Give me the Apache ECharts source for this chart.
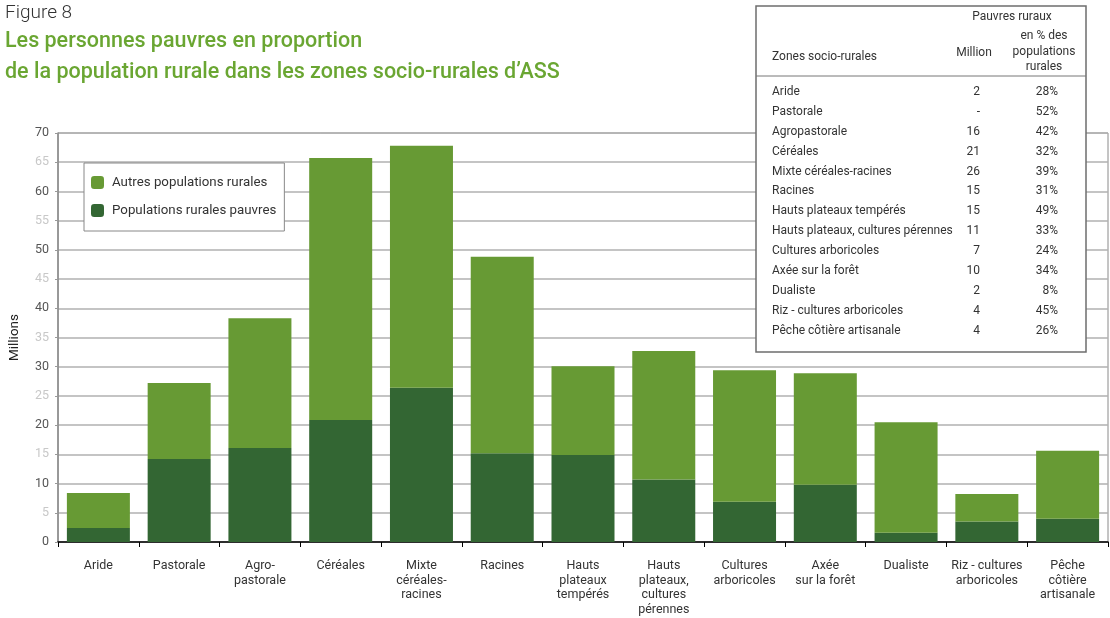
<!DOCTYPE html>
<html>
<head>
<meta charset="utf-8">
<script src="https://cdn.jsdelivr.net/npm/echarts@6/dist/echarts.min.js"></script>
<style>
  html, body { margin: 0; padding: 0; background: #fff; }
  #chart { width: 1110px; height: 618px; }
</style>
</head>
<body>
<div id="chart"></div>
<script>
// Zones socio-rurales (x-axis labels, line breaks as printed)
const categories = [
  'Aride', 'Pastorale', 'Agro-\npastorale', 'Céréales', 'Mixte\ncéréales-\nracines',
  'Racines', 'Hauts\nplateaux\ntempérés', 'Hauts\nplateaux,\ncultures\npérennes',
  'Cultures\narboricoles', 'Axée\nsur la forêt', 'Dualiste', 'Riz - cultures\narboricoles',
  'Pêche\ncôtière\nartisanale'
];

// Populations rurales pauvres (millions)
const poorRural = [2.4, 14.2, 16.1, 20.9, 26.4, 15.2, 14.9, 10.7, 6.9, 9.8, 1.6, 3.5, 4.0];
// Population rurale totale (millions)
const totalRural = [8.4, 27.2, 38.3, 65.7, 67.8, 48.8, 30.1, 32.7, 29.4, 28.9, 20.5, 8.2, 15.6];
// Autres populations rurales = total - pauvres
const otherRural = totalRural.map((t, i) => +(t - poorRural[i]).toFixed(1));

// Table: Pauvres ruraux
const tableZones = [
  'Aride', 'Pastorale', 'Agropastorale', 'Céréales', 'Mixte céréales-racines', 'Racines',
  'Hauts plateaux tempérés', 'Hauts plateaux, cultures pérennes', 'Cultures arboricoles',
  'Axée sur la forêt', 'Dualiste', 'Riz - cultures arboricoles', 'Pêche côtière artisanale'
];
const tableMillion = ['2', '-', '16', '21', '26', '15', '15', '11', '7', '10', '2', '4', '4'];
const tablePercent = ['28%', '52%', '42%', '32%', '39%', '31%', '49%', '33%', '24%', '34%', '8%', '45%', '26%'];

const yTicks = { min: 0, max: 70, interval: 5 };

const FONT = 'Roboto, "DejaVu Sans", sans-serif';
const LIGHT_GREEN = '#679a34';
const DARK_GREEN = '#336633';
const TEXT = '#333333';
const TFONT = '12px ' + FONT;

// Table drawn as graphic elements, placed above the plot grid
const tableX = 756, tableY = 6, tableW = 330, tableH = 346;
const rowTop = 92, rowStep = 19.88;
const TZ = 100;
function txt(x, y, text, align) {
  return { type: 'text', x: x, y: y, z: TZ + 2,
    style: { text: text, font: TFONT, fill: TEXT, align: align, verticalAlign: 'middle' } };
}
const tableChildren = [
  { type: 'rect', z: TZ, shape: { x: 0, y: 0, width: tableW, height: tableH },
    style: { fill: '#fff', stroke: '#6e6e6e', lineWidth: 1.5 } },
  { type: 'line', z: TZ + 1, shape: { x1: 0, y1: 70, x2: tableW, y2: 70 },
    style: { stroke: '#777', lineWidth: 1 } },
  txt(256, 11, 'Pauvres ruraux', 'center'),
  txt(218, 47, 'Million', 'center'),
  txt(288, 30, 'en % des', 'center'),
  txt(288, 46, 'populations', 'center'),
  txt(288, 61, 'rurales', 'center'),
  txt(16, 51, 'Zones socio-rurales', 'left')
];
tableZones.forEach((z, i) => {
  const y = rowTop - tableY + i * rowStep;
  tableChildren.push(
    txt(16, y, z, 'left'),
    txt(224, y, tableMillion[i], 'right'),
    txt(302, y, tablePercent[i], 'right')
  );
});

const chart = echarts.init(document.getElementById('chart'), null, { renderer: 'canvas' });

chart.setOption({
  backgroundColor: '#ffffff',
  animation: false,
  textStyle: { fontFamily: FONT },
  title: [
    { text: 'Figure 8', left: 5, top: 4, padding: 0,
      textStyle: { fontSize: 19, fontWeight: 300, color: TEXT, fontFamily: FONT } },
    { text: 'Les personnes pauvres en proportion\nde la population rurale dans les zones socio-rurales d\u2019ASS',
      left: 5, top: 26, padding: 0,
      textStyle: { fontSize: 21.5, fontWeight: 500, color: '#6aa632', lineHeight: 31, fontFamily: FONT } }
  ],
  legend: {
    orient: 'vertical',
    left: 84, top: 163,
    padding: [13, 8, 14, 7],
    itemGap: 15,
    itemWidth: 13, itemHeight: 13,
    borderColor: '#888', borderWidth: 1,
    backgroundColor: '#fff',
    data: ['Autres populations rurales', 'Populations rurales pauvres'],
    textStyle: { fontSize: 13.3, color: TEXT, fontFamily: FONT, padding: [0, 0, 0, 3] },
    selectedMode: false
  },
  grid: {
    left: 58, right: 2, top: 133, bottom: 76,
    outerBoundsMode: 'none',
    containLabel: false,
    show: true, borderColor: '#8a8a8a', borderWidth: 1
  },
  xAxis: {
    type: 'category',
    data: categories,
    boundaryGap: true,
    axisLine: { lineStyle: { color: '#000', width: 1.5 } },
    axisTick: { show: true, length: 5, inside: false, alignWithLabel: false, lineStyle: { color: '#000', width: 1 } },
    axisLabel: { color: TEXT, fontSize: 12.5, lineHeight: 14.5, margin: 17, interval: 0, fontFamily: FONT, verticalAlign: 'top' }
  },
  yAxis: {
    type: 'value',
    min: yTicks.min, max: yTicks.max, interval: yTicks.interval,
    name: 'Millions',
    nameLocation: 'middle',
    nameRotate: 90,
    nameGap: 36,
    nameTextStyle: { fontSize: 13.5, color: '#222', fontFamily: FONT },
    axisLine: { show: true, lineStyle: { color: '#8a8a8a', width: 1.5 } },
    axisTick: { show: true, length: 3, lineStyle: { color: '#999' } },
    splitLine: { show: true, lineStyle: { color: '#b0b0b0', width: 1.5 } },
    axisLabel: {
      margin: 9, fontSize: 12.5, fontFamily: FONT,
      formatter: v => (v % 10 === 0 ? '{d|' + v + '}' : '{l|' + v + '}'),
      rich: {
        d: { color: '#555', fontSize: 12.5, fontFamily: FONT },
        l: { color: '#c8c8c8', fontSize: 12.5, fontFamily: FONT }
      }
    }
  },
  series: [
    {
      name: 'Populations rurales pauvres',
      type: 'bar',
      stack: 'rural',
      barCategoryGap: '22%',
      itemStyle: { color: DARK_GREEN },
      data: poorRural
    },
    {
      name: 'Autres populations rurales',
      type: 'bar',
      stack: 'rural',
      barCategoryGap: '22%',
      itemStyle: { color: LIGHT_GREEN },
      data: otherRural
    }
  ],
  graphic: [
    { type: 'group', x: tableX, y: tableY, z: TZ, children: tableChildren }
  ]
});
</script>
</body>
</html>
